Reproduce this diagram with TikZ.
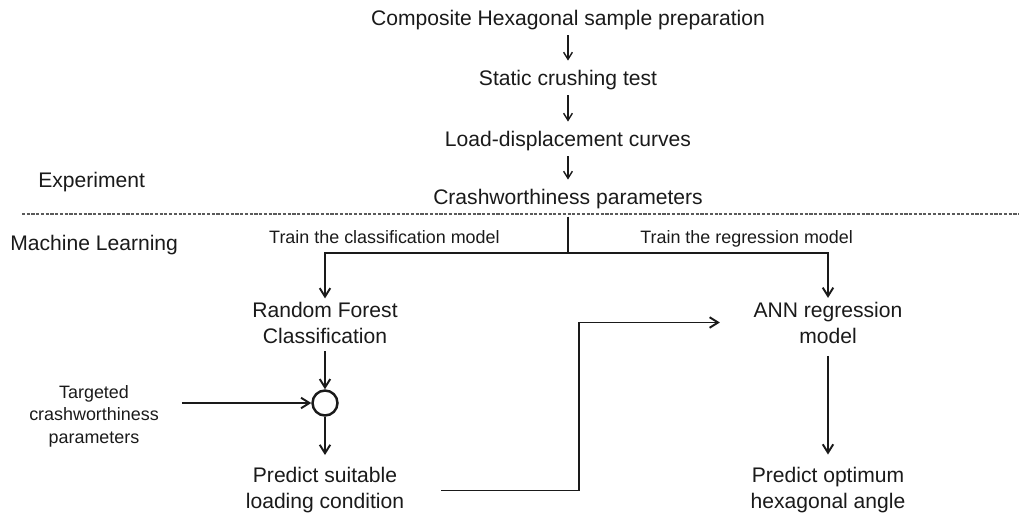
\documentclass[tikz,border=0pt]{standalone}
\usepackage{fontspec}
\setmainfont{Liberation Sans}
\usetikzlibrary{arrows.meta, calc, positioning}
\definecolor{InkA}{HTML}{1A1A1A}
\definecolor{GrayA}{HTML}{5A5A5A}
\tikzset{
  lbl/.style={inner sep=0pt, font=\fontsize{12}{14.8}\selectfont, text=InkA},
  two/.style={lbl, align=center},
  sml/.style={inner sep=0pt, font=\fontsize{10.2}{12.8}\selectfont, text=InkA},
  arr/.style={-{Straight Barb[length=4.8pt, width=6pt]}, line width=1.1pt, draw=InkA},
  glyph/.style={-{Straight Barb[length=4pt, width=5pt]}, line width=0.8pt, draw=InkA, shorten <=3pt, shorten >=5pt},
  ln/.style={line width=1.1pt, draw=InkA},
  sep/.style={draw=GrayA, line width=0.6pt, dash pattern=on 1.8pt off 0.9pt},
  sum/.style={circle, draw=InkA, line width=1.4pt, minimum size=0.5cm, inner sep=0pt}
}

\begin{document}
\begin{tikzpicture}[x=0.02cm, y=-0.02cm]
  \useasboundingbox (0,0) rectangle (1019,515);
  % experiment part
  \node[lbl, anchor=base] (prep) at (568,25) {Composite Hexagonal sample preparation};
  \node[lbl, anchor=base] (crush) at (568,85) {Static crushing test};
  \node[lbl, anchor=base] (curve) at (568,146) {Load-displacement curves};
  \node[lbl, anchor=base] (param) at (568,204) {Crashworthiness parameters};
  \node[lbl, anchor=base west] (exp) at (38,187) {Experiment};
  \draw[glyph] (prep) -- (crush);
  \draw[glyph] (crush) -- (curve);
  \draw[glyph] (curve) -- (param);
  \draw[sep] (22,214) -- (1019,214);
  % machine learning part
  \node[lbl, anchor=base west] (ml) at (10,250) {Machine Learning};
  \node[sml, anchor=base east] (trc) at (500,243) {Train the classification model};
  \node[sml, anchor=base west] (trr) at (640,243) {Train the regression model};
  \node[two] (rf) at (325,323) {Random Forest\\Classification};
  \node[two] (ann) at (828,322.5) {ANN regression\\model};
  \node[sum] (join) at (325,403) {};
  \node[sml, align=center] (target) at (94,416) {Targeted\\crashworthiness\\parameters};
  \node[two] (pred1) at (325,490.5) {Predict suitable\\loading condition};
  \node[two] (pred2) at (828,490) {Predict optimum\\hexagonal angle};
  \coordinate (split) at (568,253);
  \draw[ln, shorten <=4.5pt] (param) -- (split);
  \draw[arr, shorten >=2pt] (split) -| (rf);
  \draw[arr, shorten >=2pt] (split) -| (ann);
  \draw[arr, shorten <=4pt] (rf) -- (join);
  \draw[arr, shorten <=13pt] (target.east |- join) -- (join);
  \draw[arr, shorten >=7pt] (join) -- (pred1);
  \coordinate (mid) at ($(pred1.east)!.5!(ann.west)$);
  \draw[arr, shorten <=21pt, shorten >=19pt] (pred1.east) -| (mid) |- (ann.west);
  \draw[arr, shorten <=7pt, shorten >=7pt] (ann) -- (pred2);
\end{tikzpicture}
\end{document}
